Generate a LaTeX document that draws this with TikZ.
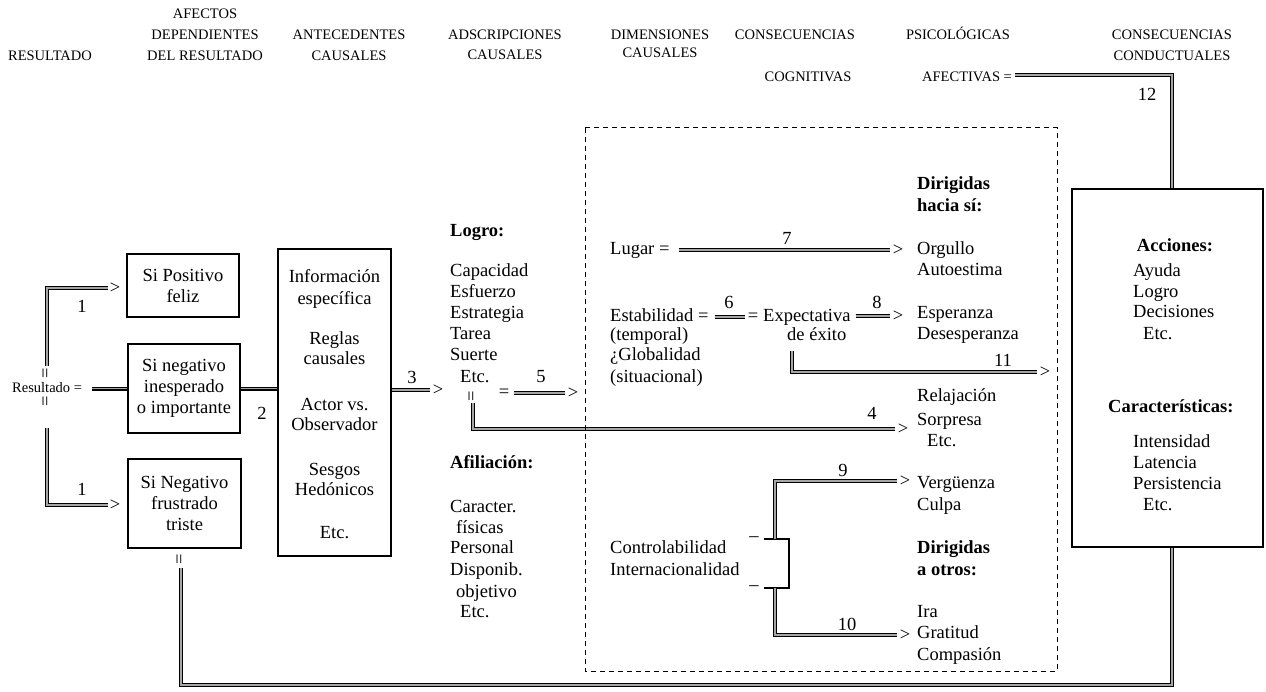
\documentclass[tikz,border=0pt]{standalone}
\usepackage{fontspec}
\setmainfont{Liberation Serif}
\newcommand{\bodyf}{\fontsize{18.5}{21}\selectfont}
\newcommand{\hdrf}{\fontsize{14.5}{21}\selectfont}
\tikzset{
 txt/.style={font=\bodyf, inner sep=0pt, anchor=base west},
 txtc/.style={font=\bodyf, inner sep=0pt, anchor=base},
 btxt/.style={font=\bodyf\bfseries, inner sep=0pt, anchor=base west},
 hdr/.style={font=\hdrf, inner sep=0pt, anchor=base},
 bx/.style={draw, line width=1.2pt, inner sep=0pt, align=center, font=\bodyf},
 dl/.style={draw, line width=1.2pt, double distance=1.6pt, double=black!35},
 gt/.style={font=\bodyf, inner sep=0pt},
 veq/.style={font=\bodyf, inner sep=0pt, rotate=90},
 num/.style={font=\bodyf, inner sep=0pt},
 thinl/.style={line width=1.2pt},
 dsh/.style={line width=1pt, dash pattern=on 5pt off 4pt},
}
\begin{document}
\begin{tikzpicture}[x=1pt,y=-1pt]
\fill[white] (0,0) rectangle (1266,692);
\useasboundingbox (0,0) rectangle (1266,692);
% headers
\node[hdr] (hR) at (50,61) {RESULTADO};
\node[hdr] (hA1) at (205,19) {AFECTOS};
\node[hdr] (hA2) at (205,40) {DEPENDIENTES};
\node[hdr] (hA3) at (205,61) {DEL RESULTADO};
\node[hdr] (hB1) at (349,40) {ANTECEDENTES};
\node[hdr] (hB2) at (349,61) {CAUSALES};
\node[hdr] (hC1) at (505,40) {ADSCRIPCIONES};
\node[hdr] (hC2) at (505,60) {CAUSALES};
\node[hdr] (hD1) at (660,40) {DIMENSIONES};
\node[hdr] (hD2) at (660,58) {CAUSALES};
\node[hdr] (hE1) at (795,40) {CONSECUENCIAS};
\node[hdr] (hE2) at (808,82) {COGNITIVAS};
\node[hdr] (hF1) at (958,40) {PSICOLÓGICAS};
\node[hdr] (hG1) at (1172,40) {CONSECUENCIAS};
\node[hdr] (hG2) at (1172,61) {CONDUCTUALES};
\node[hdr, anchor=base west] (afect) at (922,82) {AFECTIVAS =};
% left part
\node[hdr, anchor=base west] (res) at (12,392) {Resultado =};
\node[veq] (eqU) at (47,373) {=};
\node[veq] (eqD) at (47,401) {=};
\coordinate (vU) at (47,366);
\coordinate (vD) at (47,428);
\node[gt] (gtA) at (115,288) {>};
\node[gt] (gtB) at (115,505) {>};
\draw[dl, shorten >=2pt] (vU) |- (gtA.west);
\draw[dl, shorten >=2pt] (vD) |- (gtB.west);
\node[num] (n1a) at (82,306) {1};
\node[num] (n1b) at (82,489) {1};
\node[bx, minimum width=112pt, minimum height=63pt] (b1) at (183,285.5) {Si Positivo\\feliz};
\node[bx, minimum width=112pt, minimum height=89pt] (b2) at (184,388.5) {Si negativo\\inesperado\\o importante};
\node[bx, minimum width=113pt, minimum height=89pt] (b3) at (184.5,503.5) {Si Negativo\\frustrado\\triste};
\node[bx, minimum width=113pt, minimum height=307pt] (b4) at (334.5,402.5) {};
\node[txtc] (i1) at (334.5,283) {Información};
\node[txtc] (i2) at (334.5,305) {específica};
\node[txtc] (i3) at (334.5,345) {Reglas};
\node[txtc] (i4) at (334.5,365) {causales};
\node[txtc] (i5) at (334.5,410) {Actor vs.};
\node[txtc] (i6) at (334.5,430) {Observador};
\node[txtc] (i7) at (334.5,475) {Sesgos};
\node[txtc] (i8) at (334.5,495) {Hedónicos};
\node[txtc] (i9) at (334.5,538) {Etc.};
\draw[dl, shorten <=10pt] (res.east |- b2.west) -- (b2.west);
\draw[dl] (b2.east) -- (b2.east -| b4.west);
\node[num] (n2) at (262,413) {2};
\node[gt] (gt3) at (438,390) {>};
\draw[dl, shorten >=3pt] (b4.east |- gt3) -- (gt3.west);
\node[num] (n3) at (412,377) {3};
% adscripciones
\node[btxt] (logro) at (450,237) {Logro:};
\foreach \t [count=\i] in {Capacidad,Esfuerzo,Estrategia,Tarea,Suerte}
  \node[txt] (l\i) at (450,{277+21*(\i-1)}) {\t};
\node[txt] (l6) at (460,383) {Etc.};
\node[veq] (eq4) at (473,396) {=};
\node[gt] (eq5) at (504,393) {=};
\node[gt] (gt5) at (573,393) {>};
\draw[dl, shorten <=5pt, shorten >=3pt] (eq5.east) -- (gt5.west);
\node[num] (n5) at (541,377) {5};
\coordinate (c4) at (473,403);
\node[gt] (gt4) at (903,429) {>};
\draw[dl, shorten >=3pt] (c4) |- (gt4.west);
\node[num] (n4) at (872,413) {4};
\node[btxt] (afil) at (450,468) {Afiliación:};
\node[txt] (a1) at (450,512) {Caracter.};
\node[txt] (a2) at (456,533) {físicas};
\node[txt] (a3) at (450,553) {Personal};
\node[txt] (a4) at (450,575) {Disponib.};
\node[txt] (a5) at (456,597) {objetivo};
\node[txt] (a6) at (460,617) {Etc.};
% dashed region
\draw[dsh] (585,128) rectangle (1057,671);
% dimensiones
\node[txt] (lugar) at (610,255) {Lugar =};
\node[gt] (gt7) at (898,250) {>};
\draw[dl, shorten <=9pt, shorten >=3pt] (lugar.east |- gt7) -- (gt7.west);
\node[num] (n7) at (787,238) {7};
\node[txt] (estab) at (610,322) {Estabilidad =};
\node[gt] (eq6) at (753,317) {=};
\node[txt] (expec) at (763,322) {Expectativa};
\draw[dl, shorten <=6pt, shorten >=3pt] (estab.east |- eq6) -- (eq6.west);
\node[num] (n6) at (729,302) {6};
\node[txt] (exito) at (787,341) {de éxito};
\node[txt] (temp) at (610,341) {(temporal)};
\node[txt] (glob) at (610,361) {¿Globalidad};
\node[txt] (situ) at (610,382) {(situacional)};
\node[gt] (gt8) at (898,316) {>};
\draw[dl, shorten <=5pt, shorten >=3pt] (expec.east |- gt8) -- (gt8.west);
\node[num] (n8) at (877,302) {8};
\coordinate (c11) at (792,351);
\node[gt] (gt11) at (1045,372) {>};
\draw[dl, shorten >=3pt] (c11) |- (gt11.west);
\node[num] (n11) at (1003,360) {11};
\node[txt] (ctrl) at (610,553) {Controlabilidad};
\node[txt] (intn) at (610,575) {Internacionalidad};
\node[gt] (dT) at (754,539) {–};
\node[gt] (dB) at (754,588) {–};
\coordinate (bT) at (775,539);
\coordinate (bB) at (775,588);
\coordinate (bR) at (789,539);
\draw[thinl] ([xshift=5pt]dT.east) -- (bR) -- (bR |- dB) -- ([xshift=5pt]dB.east);
\node[gt] (gt9) at (905,481) {>};
\node[gt] (gt10) at (905,635) {>};
\draw[dl, shorten >=3pt] (bT) |- (gt9.west);
\draw[dl, shorten >=3pt] (bB) |- (gt10.west);
\node[num] (n9) at (843,470) {9};
\node[num] (n10) at (847,624) {10};
% afectivas
\node[btxt] (dir1) at (917,190) {Dirigidas};
\node[btxt] (dir2) at (917,212) {hacia sí:};
\node[txt] (e1) at (917,255) {Orgullo};
\node[txt] (e2) at (917,276) {Autoestima};
\node[txt] (e3) at (917,319) {Esperanza};
\node[txt] (e4) at (917,340) {Desesperanza};
\node[txt] (e5) at (917,402) {Relajación};
\node[txt] (e6) at (917,425) {Sorpresa};
\node[txt] (e7) at (927,446) {Etc.};
\node[txt] (e8) at (917,488) {Vergüenza};
\node[txt] (e9) at (917,510) {Culpa};
\node[btxt] (dir3) at (917,553) {Dirigidas};
\node[btxt] (dir4) at (917,575) {a otros:};
\node[txt] (e10) at (917,617) {Ira};
\node[txt] (e11) at (917,638) {Gratitud};
\node[txt] (e12) at (917,660) {Compasión};
% conductuales
\node[bx, minimum width=191pt, minimum height=358pt] (rb) at (1167.5,368) {};
\node[font=\bodyf\bfseries, inner sep=0pt, anchor=base] (acc) at (1175,252) {Acciones:};
\node[txt] (r1) at (1133,277) {Ayuda};
\node[txt] (r2) at (1133,298) {Logro};
\node[txt] (r3) at (1133,318) {Decisiones};
\node[txt] (r4) at (1143,340) {Etc.};
\node[btxt] (car) at (1108,412) {Características:};
\node[txt] (r5) at (1133,447) {Intensidad};
\node[txt] (r6) at (1133,468) {Latencia};
\node[txt] (r7) at (1133,489) {Persistencia};
\node[txt] (r8) at (1143,510) {Etc.};
\coordinate (c12) at (1172,75);
\draw[dl, shorten <=3pt] (afect.east |- c12) -- (c12) -- (c12 |- rb.north);
\node[num] (n12) at (1147,94) {12};
% feedback loop
\node[veq] (eqL) at (181,559) {=};
\coordinate (cl) at (181,568);
\coordinate (cb) at (1172,685);
\draw[dl] (cl) |- (cb) -- (cb |- rb.south);
\end{tikzpicture}
\end{document}
